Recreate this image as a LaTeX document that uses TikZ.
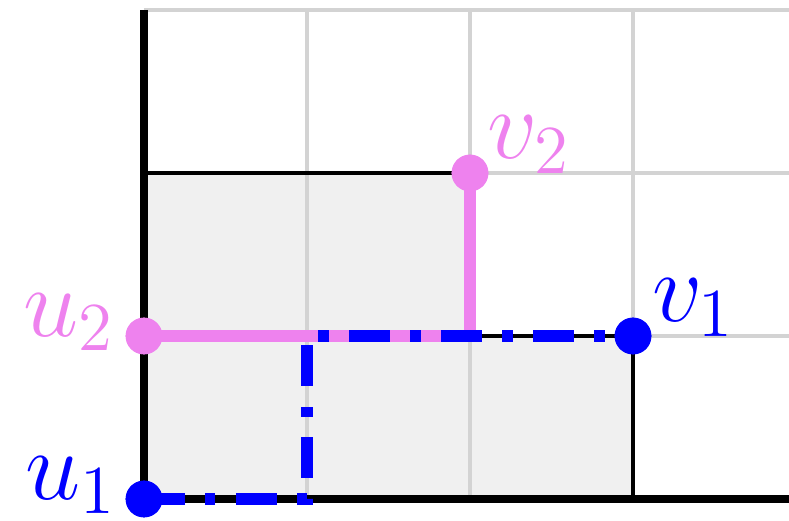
\documentclass[tikz,border=0pt]{standalone}
\usepackage{xcolor}
\usepackage{tikz}
\usetikzlibrary{positioning}
\definecolor{gridgray}{HTML}{D3D3D3}
\definecolor{shadegray}{HTML}{F0F0F0}
\definecolor{pathviolet}{HTML}{EE82EE}
\definecolor{pathblue}{HTML}{0000FF}

\begin{document}
\begin{tikzpicture}[
  gridline/.style={draw=gridgray, line width=0.55pt},
  outline/.style={draw=black, line width=0.7pt},
  axis/.style={draw=black, line width=1.4pt},
  violetpath/.style={draw=pathviolet, line width=2.1pt},
  bluepath/.style={draw=pathblue, line width=2.1pt,
                   dash pattern=on 7.15pt off 3.58pt on 1.75pt off 3.58pt},
  dot/.style={circle, minimum size=6.4pt, inner sep=0pt},
  lbl/.style={inner sep=0pt, font=\LARGE}
]
\useasboundingbox (-0.8834,-0.1288) rectangle (3.957,3.0613);

% Shaded staircase region with its grid
\fill[shadegray] (0,0) -- (0,2) -- (2,2) -- (2,1) -- (3,1) -- (3,0) -- cycle;
\draw[gridline] (0,0) grid (3.957,3);
\draw[outline] (0,2) -- (2,2) -- (2,1) -- (3,1) -- (3,0);
\draw[axis] (0,3) -- (0,0) -- (3.957,0);

% Points
\node[dot, fill=pathblue]   (u1) at (0,0) {};
\node[dot, fill=pathblue]   (v1) at (3,1) {};
\node[dot, fill=pathviolet] (u2) at (0,1) {};
\node[dot, fill=pathviolet] (v2) at (2,2) {};
\coordinate (b1) at (1,0);
\coordinate (b2) at (1,1);
\coordinate (c1) at (2,1);

% Paths, then the dots again on top
\draw[violetpath] (u2.center) -- (c1) -- (v2.center);
\draw[bluepath] (u1.center) -- (b1) -- (b2) -- (v1.center);
\node[dot, fill=pathblue]   at (u1) {};
\node[dot, fill=pathblue]   at (v1) {};
\node[dot, fill=pathviolet] at (u2) {};
\node[dot, fill=pathviolet] at (v2) {};

% Labels
\node[lbl, text=pathblue,   anchor=base east] (u1lab) at ([xshift=-0.16cm]u1.center) {$u_1$};
\node[lbl, text=pathviolet, anchor=base east] (u2lab) at ([xshift=-0.17cm]u2.center) {$u_2$};
\node[lbl, text=pathblue,   anchor=base west] (v1lab) at ([xshift=0.11cm, yshift=0.09cm]v1.center) {$v_1$};
\node[lbl, text=pathviolet, anchor=base west] (v2lab) at ([xshift=0.1cm, yshift=0.09cm]v2.center) {$v_2$};
\end{tikzpicture}
\end{document}
